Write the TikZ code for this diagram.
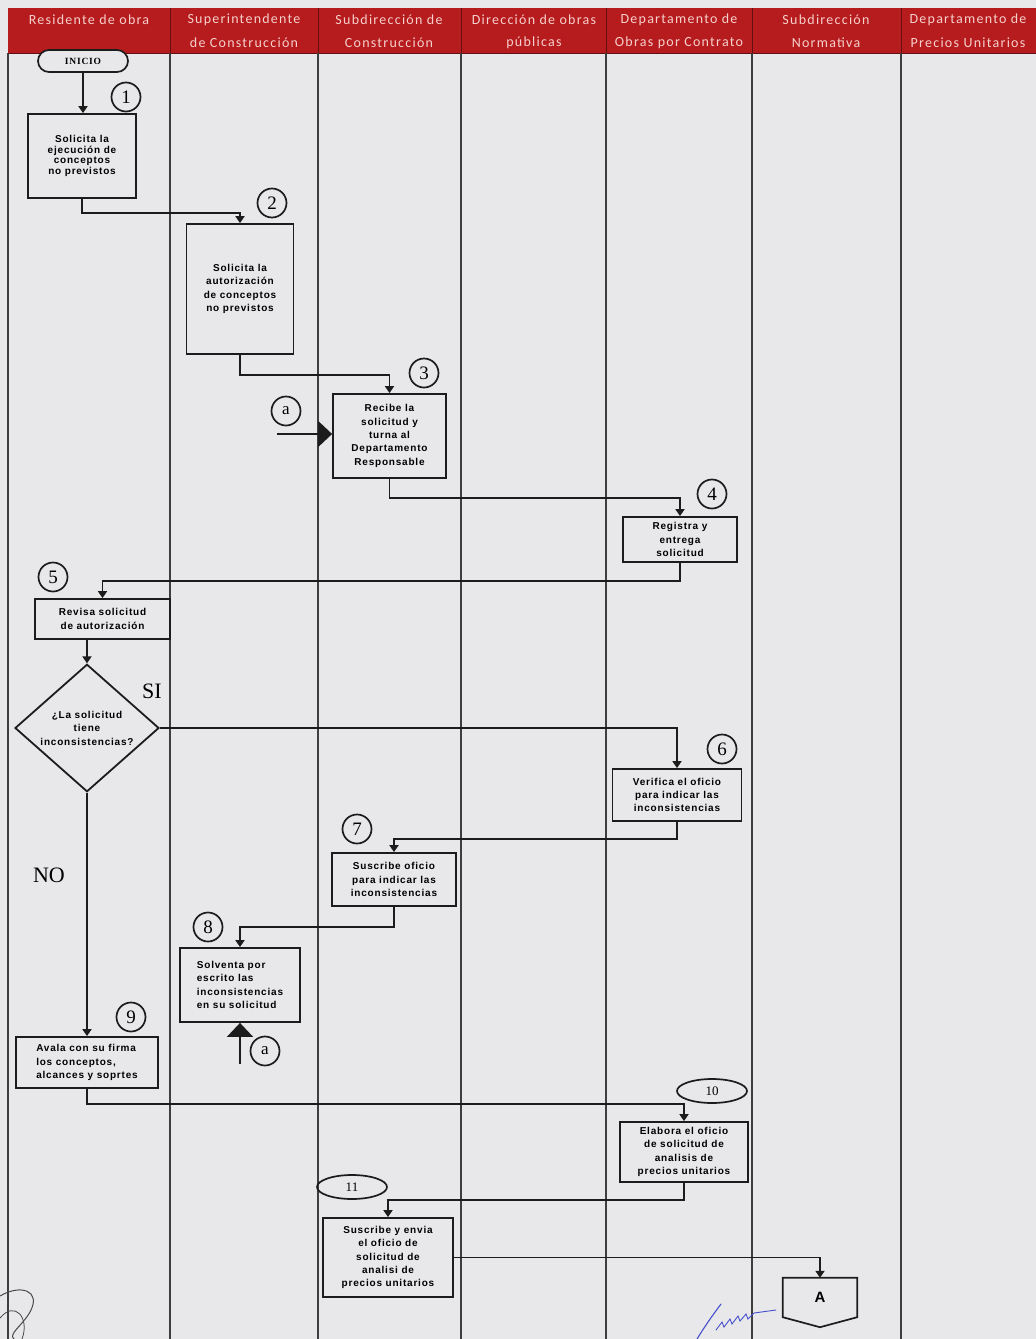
\documentclass[tikz,border=0pt]{standalone}
\usepackage{fontspec}
\setmainfont{Liberation Sans}
\newfontfamily\serifnum{Liberation Serif}
\newfontfamily\inifont[LetterSpace=8]{Liberation Serif}
\newfontfamily\hdrfont[LetterSpace=9]{Carlito}
\newfontfamily\boxfont[LetterSpace=8]{Liberation Sans}
\usetikzlibrary{shapes.geometric,arrows.meta,calc}
\definecolor{hdrred}{RGB}{182,28,30}
\definecolor{hdrtxt}{RGB}{246,208,204}
\definecolor{paper}{RGB}{232,232,234}
\definecolor{ink}{RGB}{28,28,28}
\definecolor{sigblue}{RGB}{70,80,205}
\begin{document}
\begin{tikzpicture}[x=1pt,y=-1pt,
  proc/.style={draw=ink, line width=1.8pt, fill=paper, align=center,
    font=\boxfont\fontsize{10}{13.3}\selectfont\bfseries, inner sep=2pt},
  numc/.style={circle, draw=ink, line width=1.7pt, minimum size=29pt, inner sep=0pt,
    font=\serifnum\fontsize{19}{19}\selectfont},
  nume/.style={ellipse, draw=ink, line width=1.7pt, minimum width=70pt, minimum height=24pt,
    inner sep=0pt, font=\serifnum\fontsize{13}{13}\selectfont},
  conn/.style={draw=ink, line width=1.8pt, -{Triangle[length=7pt,width=9pt]}},
  bigconn/.style={draw=ink, line width=1.8pt, -{Triangle[length=14pt,width=26pt]}},
  lane/.style={draw=ink!85, line width=1.4pt},
  hdr/.style={font=\hdrfont\fontsize{14}{16}\selectfont, text=hdrtxt, anchor=center, inner sep=0pt},
  bigtxt/.style={font=\serifnum\fontsize{22}{22}\selectfont, inner sep=0pt}
]
\useasboundingbox (0,0) rectangle (1036,1339);
\fill[paper] (0,0) rectangle (1036,1339);

% header
\fill[hdrred] (8,8) rectangle (1036,53);
\draw[hdrred!55!black, line width=1pt] (8,53) -- (1036,53);
\foreach \x in {170,318,461,606,752,901}{
  \draw[hdrred!55!black, line width=1pt] (\x,8) -- (\x,53);
}
\node[hdr] (h1) at (89,20) {Residente de obra};
\node[hdr] (h2a) at (244,20) {Superintendente};
\node[hdr] (h2b) at (244,43) {de Construcción};
\node[hdr] (h3a) at (389,20) {Subdirección de};
\node[hdr] (h3b) at (389,43) {Construcción};
\node[hdr] (h4a) at (534,20) {Dirección de obras};
\node[hdr] (h4b) at (534,43) {públicas};
\node[hdr] (h5a) at (679,20) {Departamento de};
\node[hdr] (h5b) at (679,43) {Obras por Contrato};
\node[hdr] (h6a) at (826,20) {Subdirección};
\node[hdr] (h6b) at (826,43) {Normativa};
\node[hdr] (h7a) at (968,20) {Departamento de};
\node[hdr] (h7b) at (968,43) {Precios Unitarios};

% lanes
\foreach \x in {8,170,318,461,606,752,901}{
  \draw[lane] (\x,53) -- (\x,1339);
}

% nodes
\node[draw=ink, line width=1.7pt, fill=paper, rounded corners=11pt, minimum width=90pt,
  minimum height=22pt, inner sep=0pt, font=\inifont\bfseries\fontsize{9.5}{9.5}\selectfont] (ini) at (83,61) {INICIO};
\node[proc, minimum width=108pt, minimum height=84pt, font=\boxfont\fontsize{10}{10.6}\selectfont\bfseries] (b1) at (82,156) {Solicita la\\ejecución de\\conceptos\\no previstos};
\node[proc, minimum width=107pt, minimum height=130pt] (b2) at (240,289) {Solicita la\\autorización\\de conceptos\\no previstos};
\node[proc, minimum width=113pt, minimum height=84pt] (b3) at (389.5,436) {Recibe la\\solicitud y\\turna al\\Departamento\\Responsable};
\node[proc, minimum width=114pt, minimum height=45pt] (b4) at (680,539.5) {Registra y\\entrega\\solicitud};
\node[proc, minimum width=135pt, minimum height=40pt] (b5) at (102.5,619) {Revisa solicitud\\de autorización};
\node[diamond, draw=ink, line width=1.8pt, fill=paper, minimum width=144pt, minimum height=125pt,
  inner sep=0pt, align=center, font=\boxfont\fontsize{10}{13.5}\selectfont\bfseries] (dia) at (87,728) {¿La solicitud\\tiene\\inconsistencias?};
\node[proc, minimum width=129pt, minimum height=52pt] (b6) at (677,795) {Verifica el oficio\\para indicar las\\inconsistencias};
\node[proc, minimum width=124pt, minimum height=53pt] (b7) at (394,879.5) {Suscribe oficio\\para indicar las\\inconsistencias};
\node[proc, minimum width=120pt, minimum height=74pt, align=left] (b8) at (240,985) {Solventa por\\escrito las\\inconsistencias\\en su solicitud};
\node[proc, minimum width=142pt, minimum height=51pt, align=left] (b9) at (87,1062.5) {Avala con su firma\\los conceptos,\\alcances y soprtes};
\node[proc, minimum width=128pt, minimum height=60pt] (b10) at (684,1152) {Elabora el oficio\\de solicitud de\\analisis de\\precios unitarios};
\node[proc, minimum width=130pt, minimum height=79pt] (b11) at (388,1257.5) {Suscribe y envia\\el oficio de\\solicitud de\\analisi de\\precios unitarios};

% off-page connector A
\node[minimum width=74pt, minimum height=39pt, inner sep=0pt,
  font=\fontsize{15}{15}\selectfont\bfseries] (A) at (820,1297.5) {A};
\draw[ink, line width=1.7pt] (A.north west) -- (A.north east) -- (A.south east)
  -- ($(A.south)+(0,10)$) -- (A.south west) -- cycle;

% number marks
\node[numc] (c1) at (126,97) {1};
\node[numc] (c2) at (272,203) {2};
\node[numc] (c3) at (424,373) {3};
\node[numc] (c4) at (712,494) {4};
\node[numc] (c5) at (53,577) {5};
\node[numc] (c6) at (722,749) {6};
\node[numc] (c7) at (357,829) {7};
\node[numc] (c8) at (208,927) {8};
\node[numc] (c9) at (131,1017) {9};
\node[nume] (c10) at (712,1091) {10};
\node[nume] (c11) at (352,1187) {11};
\node[numc, font=\serifnum\fontsize{17}{17}\selectfont] (ca1) at (286,411) {a};
\node[numc, font=\serifnum\fontsize{17}{17}\selectfont] (ca2) at (265,1051) {a};

\node[bigtxt] (si) at (152,691) {SI};
\node[bigtxt] (no) at (49,875) {NO};

% connectors
\draw[conn] (ini.south) -- (ini.south |- b1.north);
\draw[conn] (b1.south) -- ++(0,14) -| (b2.north);
\draw[conn] (b2.south) -- ++(0,20) -| (b3.north);
\coordinate (a1s) at (277,434);
\draw[bigconn] (a1s) -- (a1s -| b3.west);
\draw[conn] (b3.south) -- ++(0,19) -| (b4.north);
\draw[conn] (b4.south) -- ++(0,18) -| (b5.north);
\draw[conn] (b5.south -| dia.north) -- (dia.north);
\draw[conn] (dia.east) -| (b6.north);
\draw[conn] (b6.south) -- ++(0,17) -| (b7.north);
\draw[conn] (b7.south) -- ++(0,20) -| (b8.north);
\coordinate (a2s) at ($(b8.south)+(0,41)$);
\draw[bigconn] (a2s) -- (b8.south);
\draw[conn] (dia.south) -- (b9.north);
\draw[conn] (b9.south) -- ++(0,15) -| (b10.north);
\draw[conn] (b10.south) -- ++(0,17) -| (b11.north);
\draw[conn] (b11.east) -| (A.north);

% signatures
\draw[sigblue, line width=1.1pt, line cap=round] (697,1339) .. controls (705,1326) and (712,1316) .. (721,1304);
\draw[sigblue, line width=0.9pt, line cap=round] (716,1330) -- (722,1322) -- (724,1327) -- (730,1319)
  -- (732,1324) -- (738,1316) -- (740,1321) -- (746,1314) -- (748,1319) -- (754,1313) -- (776,1310);
\draw[ink!80, line width=1pt, line cap=round] (0,1296) .. controls (20,1284) and (42,1290) .. (30,1312)
  .. controls (22,1326) and (8,1334) .. (14,1339);
\draw[ink!80, line width=0.8pt, line cap=round] (0,1318) .. controls (15,1300) and (30,1318) .. (22,1339);
\end{tikzpicture}
\end{document}
